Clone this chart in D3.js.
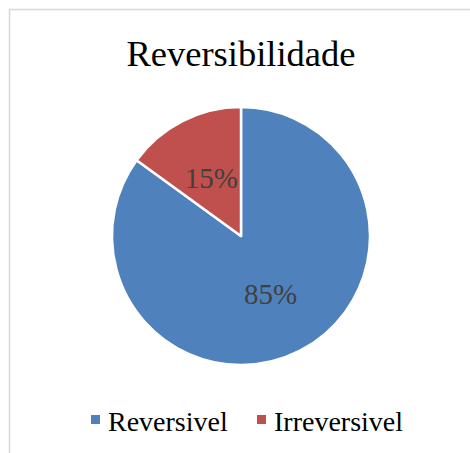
<!DOCTYPE html>
<html lang="pt">
<head>
    <meta charset="UTF-8">
    <title>Reversibilidade</title>
    <script src="https://cdnjs.cloudflare.com/ajax/libs/d3/7.8.5/d3.min.js"></script>
    <style>
        body { margin: 0; background: #fff; }
        svg { display: block; }
        svg text { font-family: "Liberation Serif", "Times New Roman", Times, serif; }
    </style>
</head>
<body>
    <svg width="470" height="453"></svg>
    <script>
const categories = ["Reversivel", "Irreversivel"];
const values = [85, 15];
const colors = ["#4F81BD", "#C0504D"];

const svg = d3.select("svg");
const width = +svg.attr("width");
const height = +svg.attr("height");

// chart border (runs off right/bottom edges)
svg.append("rect")
    .attr("x", 9.5).attr("y", 9.5)
    .attr("width", width + 20).attr("height", height + 20)
    .attr("fill", "none")
    .attr("stroke", "#d9d9d9")
    .attr("stroke-width", 1.5);

svg.append("text")
    .attr("x", 241).attr("y", 66)
    .attr("text-anchor", "middle")
    .attr("font-size", 36.5)
    .attr("fill", "#000")
    .text("Reversibilidade");

const cx = 241, cy = 236, radius = 129;
const data = categories.map((c, i) => ({ name: c, value: values[i], color: colors[i] }));

const pie = d3.pie().value(d => d.value).sort(null);
const arc = d3.arc().innerRadius(0).outerRadius(radius);
const labelArc = d3.arc().innerRadius(radius * 0.505).outerRadius(radius * 0.505);

const g = svg.append("g").attr("transform", `translate(${cx},${cy})`);
const arcs = pie(data);

g.selectAll("path")
    .data(arcs)
    .enter().append("path")
    .attr("d", arc)
    .attr("fill", d => d.data.color)
    .attr("stroke", "#fff")
    .attr("stroke-width", 2.5)
    .attr("stroke-linejoin", "round");

g.selectAll("text.lbl")
    .data(arcs)
    .enter().append("text")
    .attr("class", "lbl")
    .attr("transform", d => `translate(${labelArc.centroid(d)})`)
    .attr("text-anchor", "middle")
    .attr("dy", "0.35em")
    .attr("font-size", 29)
    .attr("fill", "#404040")
    .text(d => d.data.value + "%");

// legend
const legendX = [91, 257];
const legend = svg.selectAll("g.legend")
    .data(data)
    .enter().append("g")
    .attr("class", "legend")
    .attr("transform", (d, i) => `translate(${legendX[i]},415)`);

legend.append("rect")
    .attr("width", 9).attr("height", 9)
    .attr("fill", d => d.color);

legend.append("text")
    .attr("x", 17).attr("y", 15.5)
    .attr("font-size", 28)
    .attr("fill", "#000")
    .text(d => d.name);
    </script>
</body>
</html>
